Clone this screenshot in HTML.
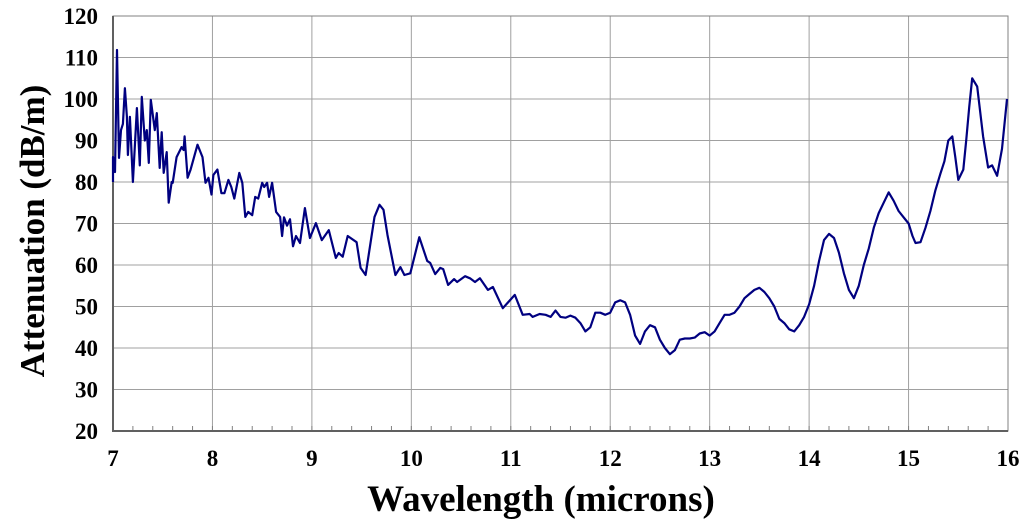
<!DOCTYPE html>
<html><head><meta charset="utf-8"><style>
html,body{margin:0;padding:0;background:#fff;}
svg{display:block;}
text{font-family:"Liberation Serif",serif;font-weight:bold;fill:#000;}
</style></head><body>
<svg id="chart" width="1024" height="525" viewBox="0 0 1024 525" xmlns="http://www.w3.org/2000/svg">
<g id="grid"></g>
<g id="axes"></g>
<path id="series" fill="none" stroke="#000080" stroke-width="2.2" stroke-linejoin="round"></path>
<text x="0" y="0" font-size="35" text-anchor="middle" transform="translate(44,231) rotate(-90)">Attenuation (dB/m)</text>
<text x="541" y="511" font-size="37" text-anchor="middle">Wavelength (microns)</text>
</svg>
<script>
const xTicks=[7,8,9,10,11,12,13,14,15,16];
const yTicks=[20,30,40,50,60,70,80,90,100,110,120];
const wavelength=[7.0,7.0,7.02,7.04,7.06,7.08,7.10,7.12,7.14,7.15,7.17,7.20,7.24,7.27,7.29,7.32,7.34,7.36,7.38,7.42,7.44,7.47,7.49,7.51,7.54,7.56,7.59,7.60,7.64,7.69,7.71,7.72,7.75,7.78,7.85,7.90,7.93,7.96,7.99,8.01,8.05,8.09,8.12,8.16,8.19,8.22,8.27,8.30,8.33,8.36,8.40,8.43,8.46,8.50,8.52,8.55,8.57,8.60,8.64,8.68,8.70,8.72,8.75,8.78,8.81,8.84,8.88,8.93,8.98,9.04,9.10,9.17,9.24,9.27,9.31,9.36,9.45,9.49,9.54,9.63,9.68,9.72,9.76,9.84,9.89,9.93,9.99,10.08,10.16,10.19,10.24,10.29,10.32,10.37,10.43,10.46,10.54,10.59,10.64,10.69,10.77,10.82,10.92,11.04,11.12,11.19,11.22,11.29,11.35,11.40,11.45,11.50,11.55,11.60,11.65,11.70,11.75,11.80,11.85,11.90,11.95,12.0,12.05,12.10,12.15,12.20,12.25,12.30,12.35,12.40,12.45,12.50,12.55,12.60,12.65,12.70,12.75,12.80,12.85,12.90,12.95,13.0,13.05,13.10,13.15,13.20,13.25,13.30,13.35,13.40,13.45,13.50,13.55,13.60,13.65,13.70,13.75,13.80,13.85,13.90,13.95,14.0,14.05,14.10,14.15,14.20,14.25,14.30,14.35,14.40,14.45,14.50,14.55,14.60,14.65,14.70,14.75,14.80,14.85,14.90,14.95,15.0,15.04,15.07,15.12,15.17,15.22,15.27,15.32,15.36,15.40,15.44,15.47,15.50,15.55,15.58,15.61,15.64,15.69,15.75,15.80,15.84,15.89,15.94,15.99];
const attenuation=[80,86,82.4,111.8,85.8,92.5,94,102.6,95.7,86.5,95.7,80,97.8,84,100.5,90,92.5,84.6,99.8,92.5,96.6,83.4,92,82.2,87.2,75,80,79.8,86,88.4,87.7,91,81,83,89,86,79.8,81,77,81.7,83,77.3,77.3,80.5,78.8,76,82.2,79.8,71.6,72.8,72,76.4,76,79.8,78.8,79.8,76.4,79.8,72.8,71.6,67,71.5,69.5,71,64.5,67,65.3,73.7,66.5,70.1,66,68.4,61.7,62.9,62,67,65.5,59.3,57.6,71.6,74.5,73.3,67.2,57.6,59.5,57.6,58,66.7,61,60.5,57.8,59.3,59,55.2,56.6,55.9,57.3,56.8,55.9,56.8,54,54.7,49.6,52.8,48,48.2,47.5,48.2,48,47.5,49,47.5,47.3,47.8,47.3,46,44,45,48.5,48.5,48,48.5,51,51.5,51,48,43,41,44,45.5,45,42,40,38.5,39.5,42,42.3,42.3,42.5,43.5,43.8,43,44,46,48,48,48.5,50,52,53,54,54.5,53.5,52,50,47,46,44.5,44,45.5,47.5,50.5,55,61,66,67.5,66.5,63,58,54,52,55,60,64,69,72.5,75,77.5,75.5,73,71.5,70,67,65.3,65.5,69,73,78,82,85,90,91,86,80.5,83,90,98,105,103,91,83.5,84,81.5,88,100];

const X0=113,X1=1008,Y0=431,Y1=16;
const xs=v=>X0+(v-7)/(16-7)*(X1-X0);
const ys=v=>Y0-(v-20)/(120-20)*(Y0-Y1);
const NS="http://www.w3.org/2000/svg";
const grid=document.getElementById('grid');
const axes=document.getElementById('axes');
function mk(tag,attrs,parent){const e=document.createElementNS(NS,tag);for(const k in attrs)e.setAttribute(k,attrs[k]);parent.appendChild(e);return e;}
for(const t of xTicks){
  const l=mk('line',{x1:xs(t),x2:xs(t),y1:Y1,y2:Y0,stroke:'#a0a0a0','stroke-width':1},grid);
  
  
  const tx=mk('text',{x:xs(t),y:466,'font-size':23,'text-anchor':'middle'},axes);
  tx.textContent=t;
  
  
}
for(let m=7;m<16;m+=0.2){
  const tk=mk('line',{x1:xs(m),x2:xs(m),y1:Y0,y2:Y0-5,stroke:'#808080','stroke-width':1},axes);
  
  
}
for(const t of yTicks){
  const l=mk('line',{x1:X0,x2:X1,y1:ys(t),y2:ys(t),stroke:'#a0a0a0','stroke-width':1},grid);
  
  
  const tx=mk('text',{x:98,y:ys(t)+8,'font-size':23,'text-anchor':'end'},axes);
  tx.textContent=t;
  
  
}
const frame=mk('rect',{x:X0,y:Y1,width:X1-X0,height:Y0-Y1,fill:'none',stroke:'#808080','stroke-width':1},axes);


const ax=mk('path',{d:`M${X0},${Y1}V${Y0}H${X1}`,fill:'none',stroke:'#606060','stroke-width':2},axes);


let d='';
for(let i=0;i<wavelength.length;i++){d+=(i?'L':'M')+xs(wavelength[i]).toFixed(1)+','+ys(attenuation[i]).toFixed(1);}
document.getElementById('series').setAttribute('d',d);
</script>
</body></html>
